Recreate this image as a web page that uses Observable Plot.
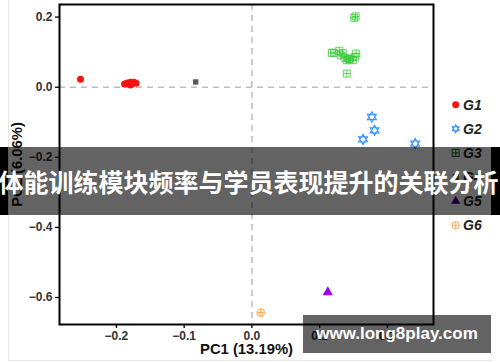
<!DOCTYPE html>
<html><head><meta charset="utf-8">
<script src="https://cdn.jsdelivr.net/npm/d3@7"></script>
<script src="https://cdn.jsdelivr.net/npm/@observablehq/plot@0.6"></script>
<style>
body{margin:0;background:#fff;}
#wrap{position:relative;width:500px;height:362px;overflow:hidden;font-family:"Liberation Sans",Arial,sans-serif;}
#wrap svg.plot{position:absolute;left:0;top:0;}
#panel{position:absolute;left:8px;top:-2px;width:484px;height:363px;border-left:1px solid #e6e6e6;border-bottom:1px solid #e6e6e6;box-sizing:border-box;}
#legend{position:absolute;left:440px;top:90px;}
#banner{position:absolute;left:0;top:147px;width:500px;height:68px;}
#banner .l{position:absolute;left:0;width:8px;top:0;height:68px;background:#000;}
#banner .r{position:absolute;left:491px;width:9px;top:0;height:68px;background:#000;}
#banner .in{position:absolute;left:8px;width:483px;top:0;height:68px;background:rgba(0,0,0,0.61);}
#banner .txt{position:absolute;left:-20px;width:537px;top:0;height:68px;line-height:68px;text-align:center;color:#fff;font-family:"Noto Sans CJK SC",sans-serif;font-weight:bold;font-size:25px;white-space:nowrap;}
#wm{position:absolute;left:303px;top:315px;width:188px;height:38px;background:rgba(0,0,0,0.61);color:#fff;font-weight:bold;font-size:17px;line-height:38px;text-align:center;}
</style></head><body>
<div id="wrap"><div id="panel"></div></div>
<script>
const groups = ["G1","G2","G3","G4","G5","G6"];
const g1X = [-0.253,-0.188,-0.182,-0.179,-0.176,-0.174,-0.171,-0.179,-0.184];
const g1Y = [0.023,0.009,0.011,0.014,0.011,0.014,0.011,0.006,0.012];
const g2X = [0.177,0.181,0.164,0.241];
const g2Y = [-0.085,-0.123,-0.149,-0.161];
const g3X = [0.151,0.153,0.118,0.121,0.129,0.131,0.137,0.140,0.145,0.149,0.154,0.152,0.140,0.134,0.143];
const g3Y = [0.198,0.202,0.098,0.098,0.104,0.091,0.084,0.077,0.082,0.077,0.096,0.087,0.039,0.097,0.080];
const g4X = [-0.083];
const g4Y = [0.015];
const g5X = [0.112];
const g5Y = [-0.585];
const g6X = [0.013];
const g6Y = [-0.643];
const xTicks = [-0.2,-0.1,0.0,0.1,0.2];
const yTicks = [0.2,0.0,-0.2,-0.4,-0.6];
const xLabel = "PC1 (13.19%)";
const yLabel = "PC2 (6.06%)";
const title = "体能训练模块频率与学员表现提升的关联分析";
const watermark = "www.long8play.com";

const hexagram = {draw(ctx, size){ const r=Math.sqrt(size/Math.PI)*1.15;
  for (const s of [1,-1]) { ctx.moveTo(0,-s*r); ctx.lineTo(r*0.866, s*r*0.5); ctx.lineTo(-r*0.866, s*r*0.5); ctx.closePath(); } }};
const boxplus = {draw(ctx,size){ const r=Math.sqrt(size/Math.PI); ctx.rect(-r,-r,2*r,2*r);
  ctx.moveTo(-r,0);ctx.lineTo(r,0);ctx.moveTo(0,-r);ctx.lineTo(0,r);} };
const circleplus = {draw(ctx,size){const r=Math.sqrt(size/Math.PI); ctx.moveTo(r,0); ctx.arc(0,0,r,0,2*Math.PI);
  ctx.moveTo(-r,0);ctx.lineTo(r,0);ctx.moveTo(0,-r);ctx.lineTo(0,r);}};

const toPts = (xs, ys) => xs.map((x,i)=>({x, y: ys[i]}));
const font = '"Liberation Sans", Arial, sans-serif';

const plot = Plot.plot({
  width: 500, height: 362,
  marginLeft: 59, marginRight: 67, marginTop: 4, marginBottom: 38,
  style: {fontFamily: font, background: "transparent", overflow: "visible"},
  x: {domain: [-0.284, 0.268], label: null},
  y: {domain: [-0.677, 0.236], label: null},
  marks: [
    Plot.axisX({ticks: xTicks, tickFormat: d3.format(".1f"), tickSize: 4, tickPadding: 3, fontSize: 12, fontWeight: "bold", color: "#333", label: null}),
    Plot.axisY({ticks: yTicks, tickFormat: d3.format(".1f"), tickSize: 4, tickPadding: 3, fontSize: 12, fontWeight: "bold", color: "#333", label: null}),
    Plot.text([xLabel], {frameAnchor: "bottom", dy: 29, fontSize: 14.8, fontWeight: "bold", fill: "#111", text: d => d}),
    Plot.text([yLabel], {frameAnchor: "left", textAnchor: "middle", dx: -42, rotate: -90, fontSize: 14.8, fontWeight: "bold", fill: "#111", text: d => d}),
    Plot.ruleY([0], {stroke: "#bdbdbd", strokeWidth: 1.5, strokeDasharray: "6,5"}),
    Plot.ruleX([0], {stroke: "#bdbdbd", strokeWidth: 1.5, strokeDasharray: "6,5"}),
    Plot.dot(toPts(g4X,g4Y), {x:"x", y:"y", symbol:"square", r:3, fill:"#595959", stroke:"none"}),
    Plot.dot(toPts(g1X,g1Y), {x:"x", y:"y", symbol:"circle", r:3.5, fill:"#ff1010", stroke:"none"}),
    Plot.dot(toPts(g3X,g3Y), {x:"x", y:"y", symbol:boxplus, r:3.5, fill:"none", stroke:"#2fc82f", strokeOpacity:0.75, strokeWidth:1}),
    Plot.dot(toPts(g2X,g2Y), {x:"x", y:"y", symbol:hexagram, r:4.5, fill:"none", stroke:"#3a96ff", strokeWidth:1.1}),
    Plot.dot(toPts(g5X,g5Y), {x:"x", y:"y", symbol:"triangle", r:3.8, fill:"#a000f0", stroke:"none"}),
    Plot.dot(toPts(g6X,g6Y), {x:"x", y:"y", symbol:circleplus, r:3.8, fill:"#fff1e0", stroke:"#ffb060", strokeWidth:1.1}),
    Plot.frame({stroke: "#000", strokeWidth: 2})
  ]
});
plot.classList.add("plot");
plot.querySelectorAll('g[aria-label="x-axis tick"], g[aria-label="y-axis tick"]').forEach(g=>{g.setAttribute("stroke","#000");g.setAttribute("stroke-width","1.3");});
const wrap = document.getElementById("wrap");
wrap.appendChild(plot);

// legend
const legendColors = ["#ff1010","#3a96ff","#2e7d32","#555555","#4b0082","#ffb060"];
const legendSyms = [d3.symbolCircle, hexagram, boxplus, d3.symbolSquare, d3.symbolTriangle, circleplus];
const legendFilled = [true,false,false,true,true,false];
const lsvg = d3.create("svg").attr("id","legend").attr("width",60).attr("height",150);
groups.forEach((g,i)=>{
  const y = 14.7 + i*24.1;
  lsvg.append("path").attr("transform",`translate(15.7,${y})`)
    .attr("d", d3.symbol(legendSyms[i], 38)())
    .attr("fill", legendFilled[i] ? legendColors[i] : "none")
    .attr("stroke", legendFilled[i] ? "none" : legendColors[i]).attr("stroke-width",1.1);
  lsvg.append("text").attr("x",23).attr("y",y+5).text(g)
    .attr("font-family",font).attr("font-weight","bold")
    .attr("font-style","italic").attr("font-size",14).attr("fill","#222");
});
wrap.appendChild(lsvg.node());

const banner = document.createElement("div");
banner.id = "banner";
banner.innerHTML = `<div class="l"></div><div class="r"></div><div class="in"></div><div class="txt"></div>`;
banner.querySelector(".txt").textContent = title;
wrap.appendChild(banner);
const wm = document.createElement("div");
wm.id = "wm"; wm.textContent = watermark;
wrap.appendChild(wm);
</script>
</body></html>
